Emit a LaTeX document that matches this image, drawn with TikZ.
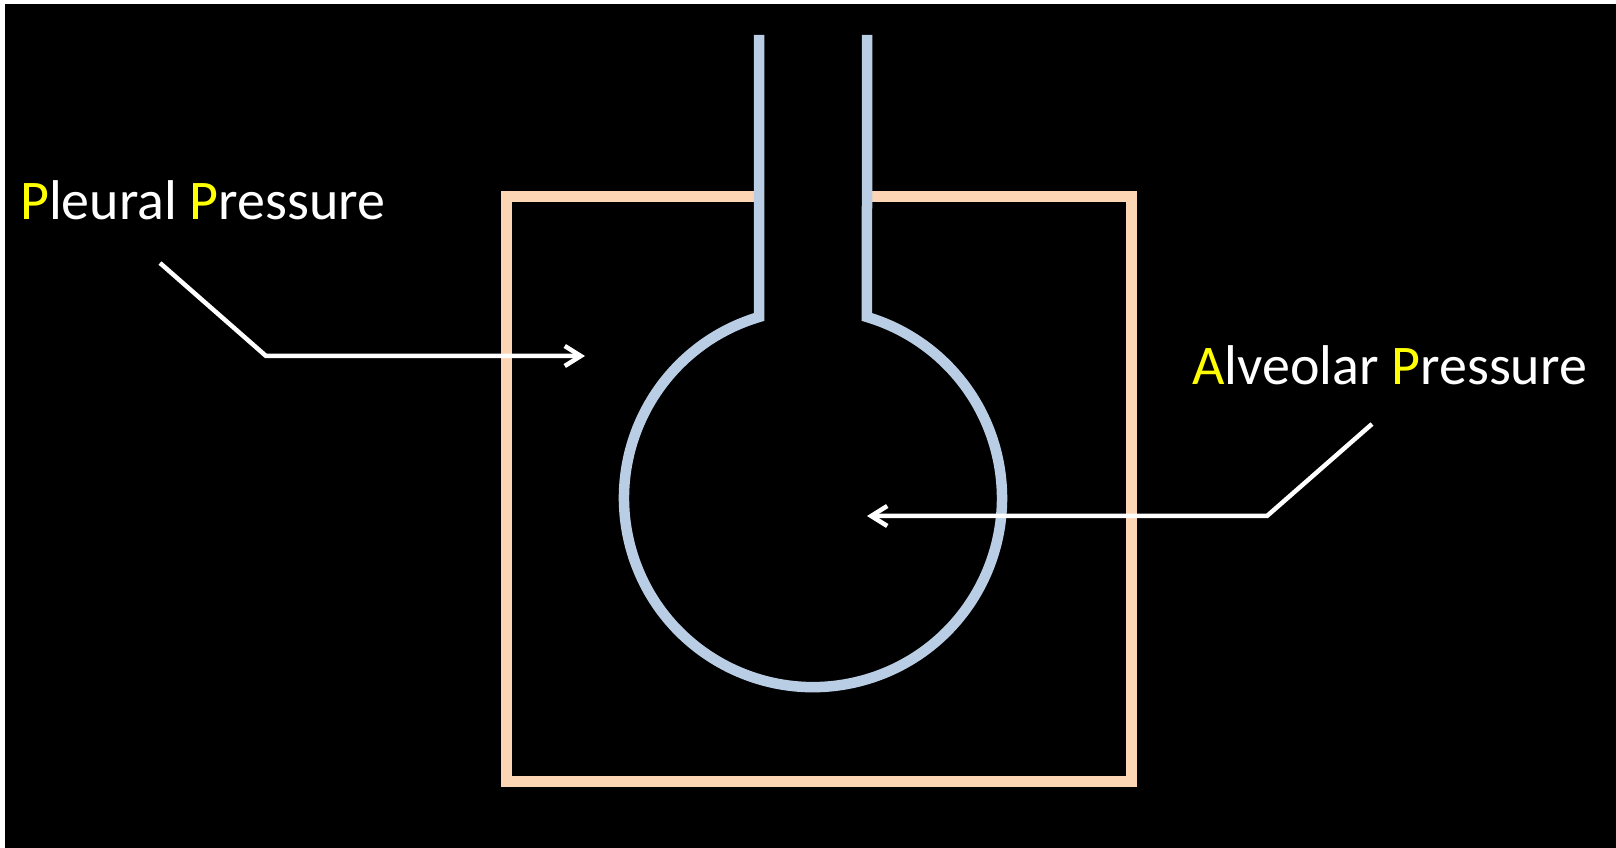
\documentclass[tikz,border=0pt]{standalone}
\usepackage{fontspec}
\setmainfont{Carlito}
\usetikzlibrary{arrows.meta}
\definecolor{ptyellow}{HTML}{FFFF00}
\definecolor{boxorange}{HTML}{FCD5B5}
\definecolor{lungblue}{HTML}{B9CDE5}
\tikzset{
  pbox/.style={draw=boxorange, line width=11pt, line join=miter},
  lung/.style={draw=lungblue, line width=10.5pt, line join=miter},
  pointer/.style={draw=white, line width=4.5pt, line join=miter,
    -{Straight Barb[length=16pt,width=20pt,line width=4.5pt]}},
  lbl/.style={inner sep=0pt, anchor=base west, text=white, font=\fontsize{56}{60}\selectfont},
}
\begin{document}
\begin{tikzpicture}[x=1pt,y=1pt]
\useasboundingbox (0,0) rectangle (1616,848);
\fill[white] (0,0) rectangle (1616,848);
\fill[black] (5,0) rectangle (1616,844);
% pleural box (open between the tube walls)
\draw[pbox] (759,651) -- (506,651) -- (506,66) -- (1131,66) -- (1131,651) -- (867,651);
% alveolus with airway
\draw[lung] (759,813) -- (759,531) arc[start angle=106.6, end angle=433.4, radius=189] -- (867,813);
% labels
\node[lbl] (pleural) at (20,628) {{\color{ptyellow}P}leural {\color{ptyellow}P}ressure};
\node[lbl] (alveolar) at (1192,463) {{\color{ptyellow}A}lveolar {\color{ptyellow}P}ressure};
% pointer coordinates
\coordinate (ps) at (160,585);
\coordinate (pb) at (266,492);
\coordinate (pt) at (585,492);
\coordinate (as) at (1372,424);
\coordinate (ab) at (1267,332);
\coordinate (at) at (867,332);
\draw[pointer] (ps) -- (pb) -- (pt);
\draw[pointer] (as) -- (ab) -- (at);
\end{tikzpicture}
\end{document}
